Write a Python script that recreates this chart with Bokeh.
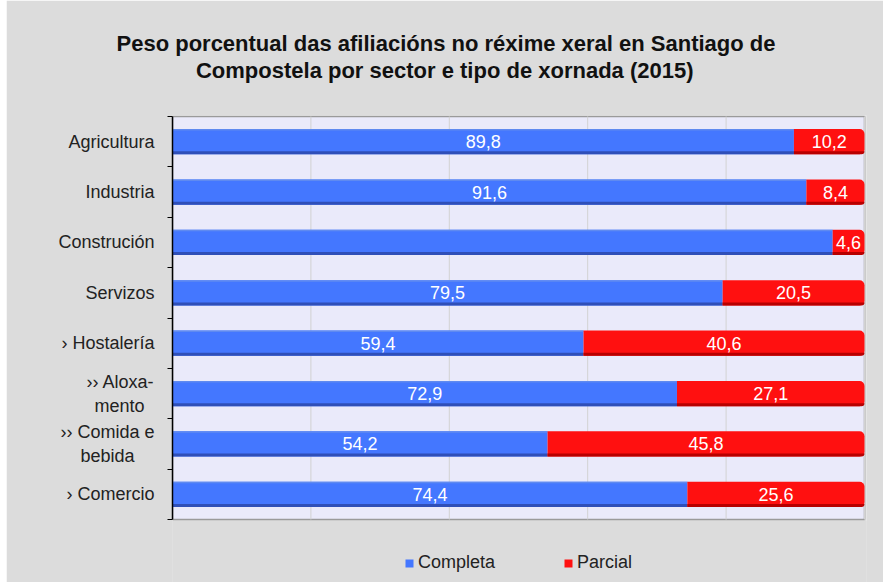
from bokeh.plotting import figure
from bokeh.layouts import row, Spacer
from bokeh.models import FixedTicker, Legend, LegendItem, ColumnDataSource, Title, Range1d
from bokeh.core.properties import value
from bokeh.embed import file_html
from bokeh.resources import INLINE

categories = ["Agricultura", "Industria", "Construción", "Servizos", "› Hostalería",
              "›› Aloxa-\nmento", "›› Comida e\nbebida", "› Comercio"]
completa = [89.8, 91.6, 95.4, 79.5, 59.4, 72.9, 54.2, 74.4]
parcial = [10.2, 8.4, 4.6, 20.5, 40.6, 27.1, 45.8, 25.6]
show_completa_label = [True, True, False, True, True, True, True, True]
x_ticks = [0, 20, 40, 60, 80, 100]
title_lines = ["Peso porcentual das afiliacións no réxime xeral en Santiago de",
               "Compostela por sector e tipo de xornada (2015)"]
series_names = ["Completa", "Parcial"]

n = len(categories)
ypos = [n - i - 0.5 for i in range(n)]
fmt = lambda v: f"{v:.1f}".replace(".", ",")

# wrapped texts: second lines padded so they look centred under the first
NB = "\u00a0"
label_display = [c.replace("\nmento", "\nmento" + NB * 2).replace("\nbebida", "\nbebida" + NB * 4)
                 for c in categories]
title_text = title_lines[0] + "\n" + NB * 13 + title_lines[1]

src = ColumnDataSource(dict(
    y=ypos,
    comp_end=list(completa),
    parc_end=[c + p for c, p in zip(completa, parcial)],
    comp_mid=[c / 2 for c in completa],
    parc_mid=[c + p / 2 for c, p in zip(completa, parcial)],
    comp_lab=[fmt(c) if s else "" for c, s in zip(completa, show_completa_label)],
    parc_lab=[fmt(p) for p in parcial],
    y_dark=[y - 0.22 for y in ypos],
    y_top=[y + 0.235 for y in ypos],
))
grid_src = ColumnDataSource(dict(x=x_ticks, y0=[0] * len(x_ticks), y1=[n] * len(x_ticks)))

FONT = "Liberation Sans"
BG = "#dcdcdc"
PLOT_BG = "#eaeafa"
BLUE, BLUE_DARK, BLUE_TOP = "#4477ff", "#2f4fb8", "#5f8af0"
RED, RED_DARK = "#ff1010", "#b80000"

# layout: canvas 877x582; plot area 692x403 px; title panel above (~115 px);
# the frame runs down to the canvas bottom so the legend can sit inside it
W, H = 877, 582
TOP_EST = 115
AREA_TOP, AREA_H, AREA_W = 116, 403, 692
unit_y = AREA_H / n
unit_x = AREA_W / 100
y_hi = n + (AREA_TOP - TOP_EST) / unit_y
y_lo = n - (H - AREA_TOP) / unit_y
x_hi = 100 + 2 / unit_x

p = figure(width=W, height=H, x_range=Range1d(0, x_hi), y_range=Range1d(y_lo, y_hi),
           output_backend="svg", toolbar_location=None,
           min_border_left=166, min_border_right=17, min_border_top=0, min_border_bottom=0)
p.background_fill_color = BG
p.border_fill_color = BG
p.outline_line_color = None

# area under the plot (legend strip) painted with the page grey
p.quad(left=-1, right=x_hi + 1, bottom=y_lo - 1, top=-1.5 / unit_y,
       fill_color=BG, line_color=None)
# plot area
p.quad(left=0, right=100, bottom=0, top=n, fill_color=PLOT_BG, line_color="#9a9a9a", line_width=1.5)
p.segment(x0="x", x1="x", y0="y0", y1="y1", source=grid_src, line_color="#d2d2d2", line_width=1)
p.grid.visible = False
p.xaxis.visible = False

# bars
r_comp = p.hbar(y="y", left=0, right="comp_end", height=0.5, source=src,
                fill_color=BLUE, line_color=None)
p.hbar(y="y_top", left=0, right="comp_end", height=0.03, source=src,
       fill_color=BLUE_TOP, line_color=None)
p.hbar(y="y_dark", left=0, right="comp_end", height=0.06, source=src,
       fill_color=BLUE_DARK, line_color=None)
r_parc = p.hbar(y="y", left="comp_end", right="parc_end", height=0.5, source=src,
                fill_color=RED, line_color=None, border_radius=(0, 5, 5, 0))
p.hbar(y="y_dark", left="comp_end", right="parc_end", height=0.06, source=src,
       fill_color=RED_DARK, line_color=None, border_radius=(0, 0, 4, 0))

# value labels
for col_x, col_t in (("comp_mid", "comp_lab"), ("parc_mid", "parc_lab")):
    p.text(x=col_x, y="y", text=col_t, source=src, text_color="white",
           text_font=value(FONT), text_font_size="18px", text_align="center",
           text_baseline="middle")

# y axis
yax = p.yaxis[0]
yax.bounds = (0, n)
yax.ticker = FixedTicker(ticks=ypos, minor_ticks=list(range(n + 1)))
yax.major_label_overrides = {y: c for y, c in zip(ypos, label_display)}
yax.major_tick_line_color = None
yax.major_tick_out = 0
yax.major_tick_in = 0
yax.minor_tick_line_color = "black"
yax.minor_tick_out = 5
yax.minor_tick_in = 0
yax.axis_line_color = "black"
yax.axis_line_width = 1.5
yax.major_label_text_font = FONT
yax.major_label_text_font_size = "18px"
yax.major_label_text_color = "#222222"
yax.major_label_standoff = 13

# title
t = Title(text=title_text, align="left", vertical_align="top", text_font=FONT,
          text_font_size="22px", text_font_style="bold", text_color="#111111",
          offset=-56, standoff=60, text_line_height=1.107)
p.add_layout(t, "above")

# legend (inside the frame, under the plot area)
legend = Legend(items=[LegendItem(label=series_names[0], renderers=[r_comp]),
                       LegendItem(label=series_names[1], renderers=[r_parc])],
                orientation="horizontal", location=(232, 9),
                background_fill_alpha=0, border_line_color=None,
                label_text_font=FONT, label_text_font_size="18px",
                label_text_color="#222222", glyph_width=10, glyph_height=10,
                spacing=68, label_standoff=4, padding=2, margin=0)
p.add_layout(legend, "center")

layout = row(Spacer(width=6), p)
open("out.html", "w").write(file_html(layout, INLINE))
